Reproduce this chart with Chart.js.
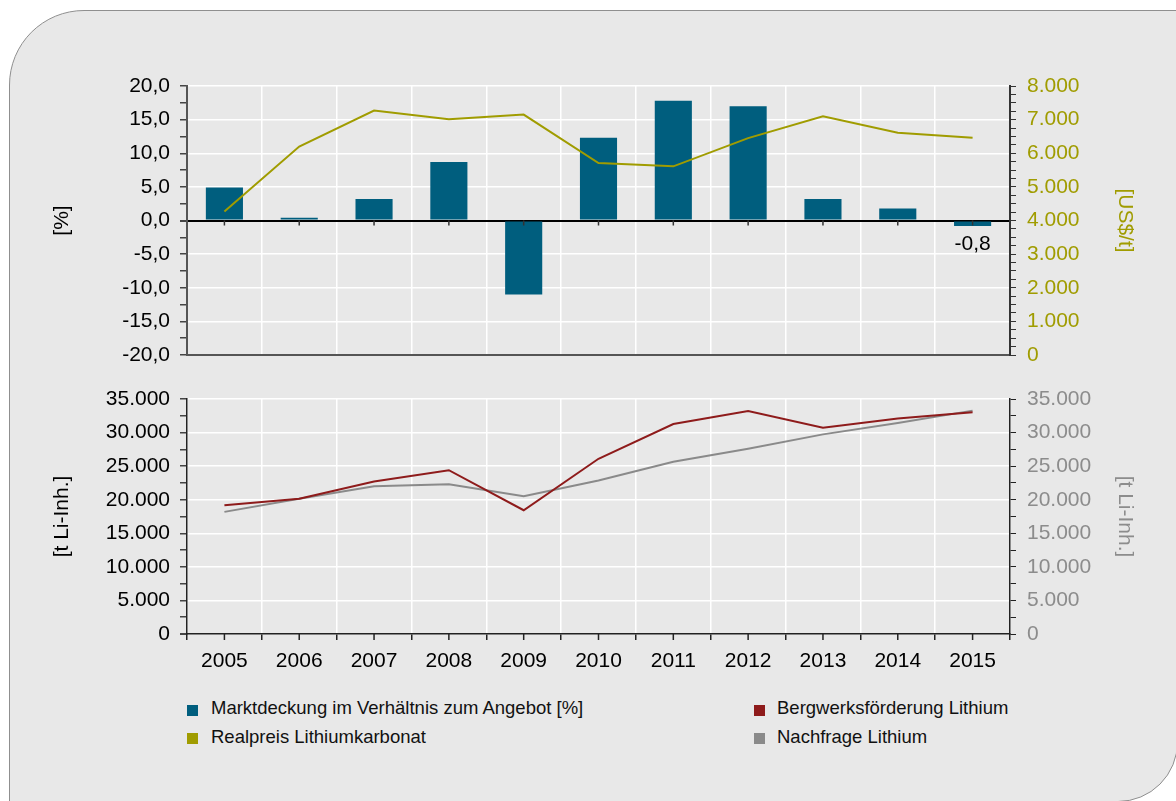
<!DOCTYPE html>
<html>
<head>
<meta charset="utf-8">
<script src="https://cdn.jsdelivr.net/npm/chart.js@4.4.1/dist/chart.umd.min.js"></script>
<style>
  body { margin: 0; background: #fff; width: 1176px; height: 801px; overflow: hidden; position: relative;
         font-family: 'Liberation Sans', Arial, Helvetica, sans-serif; }
  #panel { position: absolute; left: 9px; top: 10px; width: 1169px; height: 792px; background: #e8e8e8;
           border: 1px solid #8f8f8f; border-radius: 75px 0 60px 0; box-sizing: border-box; }
  canvas { position: absolute; left: 0; }
  #topChart { top: 0; }
  #bottomChart { top: 375px; }
  .lg-box { position: absolute; width: 11px; height: 11px; }
  .lg-text { position: absolute; font-size: 18.5px; line-height: 20px; color: #111; white-space: nowrap; }
</style>
</head>
<body>
<div id="panel"></div>
<canvas id="topChart" width="1176" height="379"></canvas>
<canvas id="bottomChart" width="1176" height="305"></canvas>

<div class="lg-box" style="left:187px; top:705px; background:#005e7e"></div>
<div class="lg-text" style="left:211px; top:698px">Marktdeckung im Verhältnis zum Angebot [%]</div>
<div class="lg-box" style="left:187px; top:733px; background:#a09c00"></div>
<div class="lg-text" style="left:211px; top:727px">Realpreis Lithiumkarbonat</div>
<div class="lg-box" style="left:754px; top:705px; background:#8e1b1b"></div>
<div class="lg-text" style="left:777px; top:698px">Bergwerksförderung Lithium</div>
<div class="lg-box" style="left:754px; top:733px; background:#8a8a8a"></div>
<div class="lg-text" style="left:777px; top:727px">Nachfrage Lithium</div>

<script>
// data
const years = ['2005', '2006', '2007', '2008', '2009', '2010', '2011', '2012', '2013', '2014', '2015'];
const marketCoverage = [4.9, 0.4, 3.2, 8.7, -11.0, 12.3, 17.8, 17.0, 3.2, 1.8, -0.8]; // [%]
const carbonatePrice = [4270, 6200, 7270, 7010, 7150, 5710, 5610, 6450, 7100, 6610, 6460]; // [US$/t]
const mineProduction = [19180, 20130, 22720, 24400, 18430, 26100, 31270, 33210, 30730, 32080, 33020]; // [t Li-Inh.]
const demand = [18190, 20130, 22020, 22310, 20520, 22870, 25660, 27600, 29730, 31420, 33270]; // [t Li-Inh.]

// axis ranges: [min, max, minor step, labelled step]
const pctAxis = [-20, 20, 2.5, 5];
const priceAxis = [0, 8000, 250, 1000];
const tonnesAxis = [0, 35000, 2500, 5000];

const barColor = '#005e7e';
const priceColor = '#a09c00';
const mineColor = '#8e1b1b';
const demandColor = '#8a8a8a';

Chart.defaults.font.family = "'Liberation Sans', Arial, Helvetica, sans-serif";
Chart.defaults.font.size = 21;
Chart.defaults.color = '#000';

function isMajor(v, step) {
  return Math.abs(v / step - Math.round(v / step)) < 1e-9;
}
function fmtPct(v) {
  return v.toFixed(1).replace('.', ',');
}
function fmtThousands(v) {
  return v.toLocaleString('de-DE');
}

// small tick marks at category centres (the library only puts them on the boundaries)
const centerTicks = {
  id: 'centerTicks',
  afterDatasetsDraw(chart, args, opts) {
    const ctx = chart.ctx;
    const x = chart.scales.x;
    const y0 = opts.atZero ? chart.scales.y.getPixelForValue(0) : chart.chartArea.bottom;
    ctx.save();
    ctx.strokeStyle = opts.color;
    ctx.lineWidth = 1.5;
    x.ticks.forEach((t, i) => {
      const px = x.getPixelForTick(i);
      ctx.beginPath();
      ctx.moveTo(px, y0);
      ctx.lineTo(px, y0 + opts.length);
      ctx.stroke();
    });
    ctx.restore();
  }
};

// value label under the last bar
const lastBarLabel = {
  id: 'lastBarLabel',
  afterDatasetsDraw(chart) {
    const ctx = chart.ctx;
    const meta = chart.getDatasetMeta(0);
    const i = meta.data.length - 1;
    const bar = meta.data[i];
    ctx.save();
    ctx.fillStyle = '#000';
    ctx.font = "21px 'Liberation Sans', Arial, sans-serif";
    ctx.textAlign = 'center';
    ctx.textBaseline = 'middle';
    ctx.fillText(fmtPct(chart.data.datasets[0].data[i]), bar.x, bar.y + 18);
    ctx.restore();
  }
};

function yGrid(axis) {
  return {
    color: c => {
      const v = c.tick.value;
      if (v === axis[0]) return 'rgba(0,0,0,0)';
      if (v === 0) return '#000';
      return isMajor(v, axis[3]) ? '#fff' : 'rgba(0,0,0,0)';
    },
    lineWidth: c => (c.tick.value === 0 ? 2 : 1.5),
    tickColor: '#444',
    tickLength: 7
  };
}

// top panel: market coverage bars + carbonate price line
new Chart(document.getElementById('topChart'), {
  type: 'bar',
  data: {
    labels: years,
    datasets: [
      {
        label: 'Marktdeckung im Verhältnis zum Angebot [%]',
        data: marketCoverage,
        backgroundColor: barColor,
        borderWidth: 0,
        barPercentage: 0.62,
        categoryPercentage: 0.8,
        yAxisID: 'y',
        order: 1
      },
      {
        type: 'line',
        label: 'Realpreis Lithiumkarbonat',
        data: carbonatePrice,
        borderColor: priceColor,
        borderWidth: 2,
        pointRadius: 0,
        tension: 0,
        yAxisID: 'y1',
        order: 0
      }
    ]
  },
  options: {
    responsive: false,
    animation: false,
    devicePixelRatio: 1,
    layout: { padding: { top: 86, bottom: 24, left: 0, right: 0 } },
    plugins: {
      legend: { display: false },
      tooltip: { enabled: false },
      centerTicks: { atZero: true, length: 5, color: '#333' }
    },
    scales: {
      x: {
        offset: true,
        grid: { offset: true, color: '#fff', lineWidth: 1.5, drawTicks: false },
        border: { color: '#555', width: 2 },
        ticks: { display: false },
        afterFit: s => { s.height = 0; }
      },
      y: {
        position: 'left',
        min: pctAxis[0],
        max: pctAxis[1],
        ticks: {
          stepSize: pctAxis[2],
          autoSkip: false,
          padding: 10,
          color: '#000',
          callback: v => (isMajor(v, pctAxis[3]) ? fmtPct(v) : '')
        },
        grid: yGrid(pctAxis),
        border: { color: '#555', width: 2 },
        title: { display: true, text: '[%]', color: '#000', padding: { top: 50, bottom: 0 } },
        afterFit: s => { s.width = 187; }
      },
      y1: {
        position: 'right',
        min: priceAxis[0],
        max: priceAxis[1],
        ticks: {
          stepSize: priceAxis[2],
          autoSkip: false,
          padding: 11,
          color: priceColor,
          callback: v => (isMajor(v, priceAxis[3]) ? fmtThousands(v) : '')
        },
        grid: { drawOnChartArea: false, tickColor: '#333', tickLength: 6 },
        border: { color: '#333', width: 2 },
        title: { display: true, text: '[US$/t]', color: priceColor, padding: { top: 39, bottom: 0 } },
        afterFit: s => { s.width = 166; }
      }
    }
  },
  plugins: [centerTicks, lastBarLabel]
});

// bottom panel: mine production and demand
new Chart(document.getElementById('bottomChart'), {
  type: 'line',
  data: {
    labels: years,
    datasets: [
      {
        label: 'Bergwerksförderung Lithium',
        data: mineProduction,
        borderColor: mineColor,
        borderWidth: 2,
        pointRadius: 0,
        tension: 0,
        order: 0
      },
      {
        label: 'Nachfrage Lithium',
        data: demand,
        borderColor: demandColor,
        borderWidth: 2,
        pointRadius: 0,
        tension: 0,
        order: 1
      }
    ]
  },
  options: {
    responsive: false,
    animation: false,
    devicePixelRatio: 1,
    layout: { padding: { top: 24, bottom: 0, left: 0, right: 0 } },
    plugins: {
      legend: { display: false },
      tooltip: { enabled: false },
      centerTicks: { atZero: false, length: 6, color: '#222' }
    },
    scales: {
      x: {
        offset: true,
        grid: { offset: true, color: '#fff', lineWidth: 1.5, tickColor: '#222', tickLength: 6 },
        border: { color: '#222', width: 1.5 },
        ticks: { color: '#000', padding: 9, autoSkip: false, maxRotation: 0 },
        afterFit: s => { s.height = 46; }
      },
      y: {
        position: 'left',
        min: tonnesAxis[0],
        max: tonnesAxis[1],
        ticks: {
          stepSize: tonnesAxis[2],
          autoSkip: false,
          padding: 10,
          color: '#000',
          callback: v => (isMajor(v, tonnesAxis[3]) ? fmtThousands(v) : '')
        },
        grid: yGrid(tonnesAxis),
        border: { color: '#222', width: 1.5 },
        title: { display: true, text: '[t Li-Inh.]', color: '#000', padding: { top: 50, bottom: 0 } },
        afterFit: s => { s.width = 187; }
      },
      y1: {
        position: 'right',
        min: tonnesAxis[0],
        max: tonnesAxis[1],
        ticks: {
          stepSize: tonnesAxis[2],
          autoSkip: false,
          padding: 11,
          color: '#8c8c8c',
          callback: v => (isMajor(v, tonnesAxis[3]) ? fmtThousands(v) : '')
        },
        grid: { drawOnChartArea: false, tickColor: '#222', tickLength: 6 },
        border: { color: '#222', width: 1.5 },
        title: { display: true, text: '[t Li-Inh.]', color: '#8c8c8c', padding: { top: 39, bottom: 0 } },
        afterFit: s => { s.width = 166; }
      }
    }
  },
  plugins: [centerTicks]
});
</script>
</body>
</html>
